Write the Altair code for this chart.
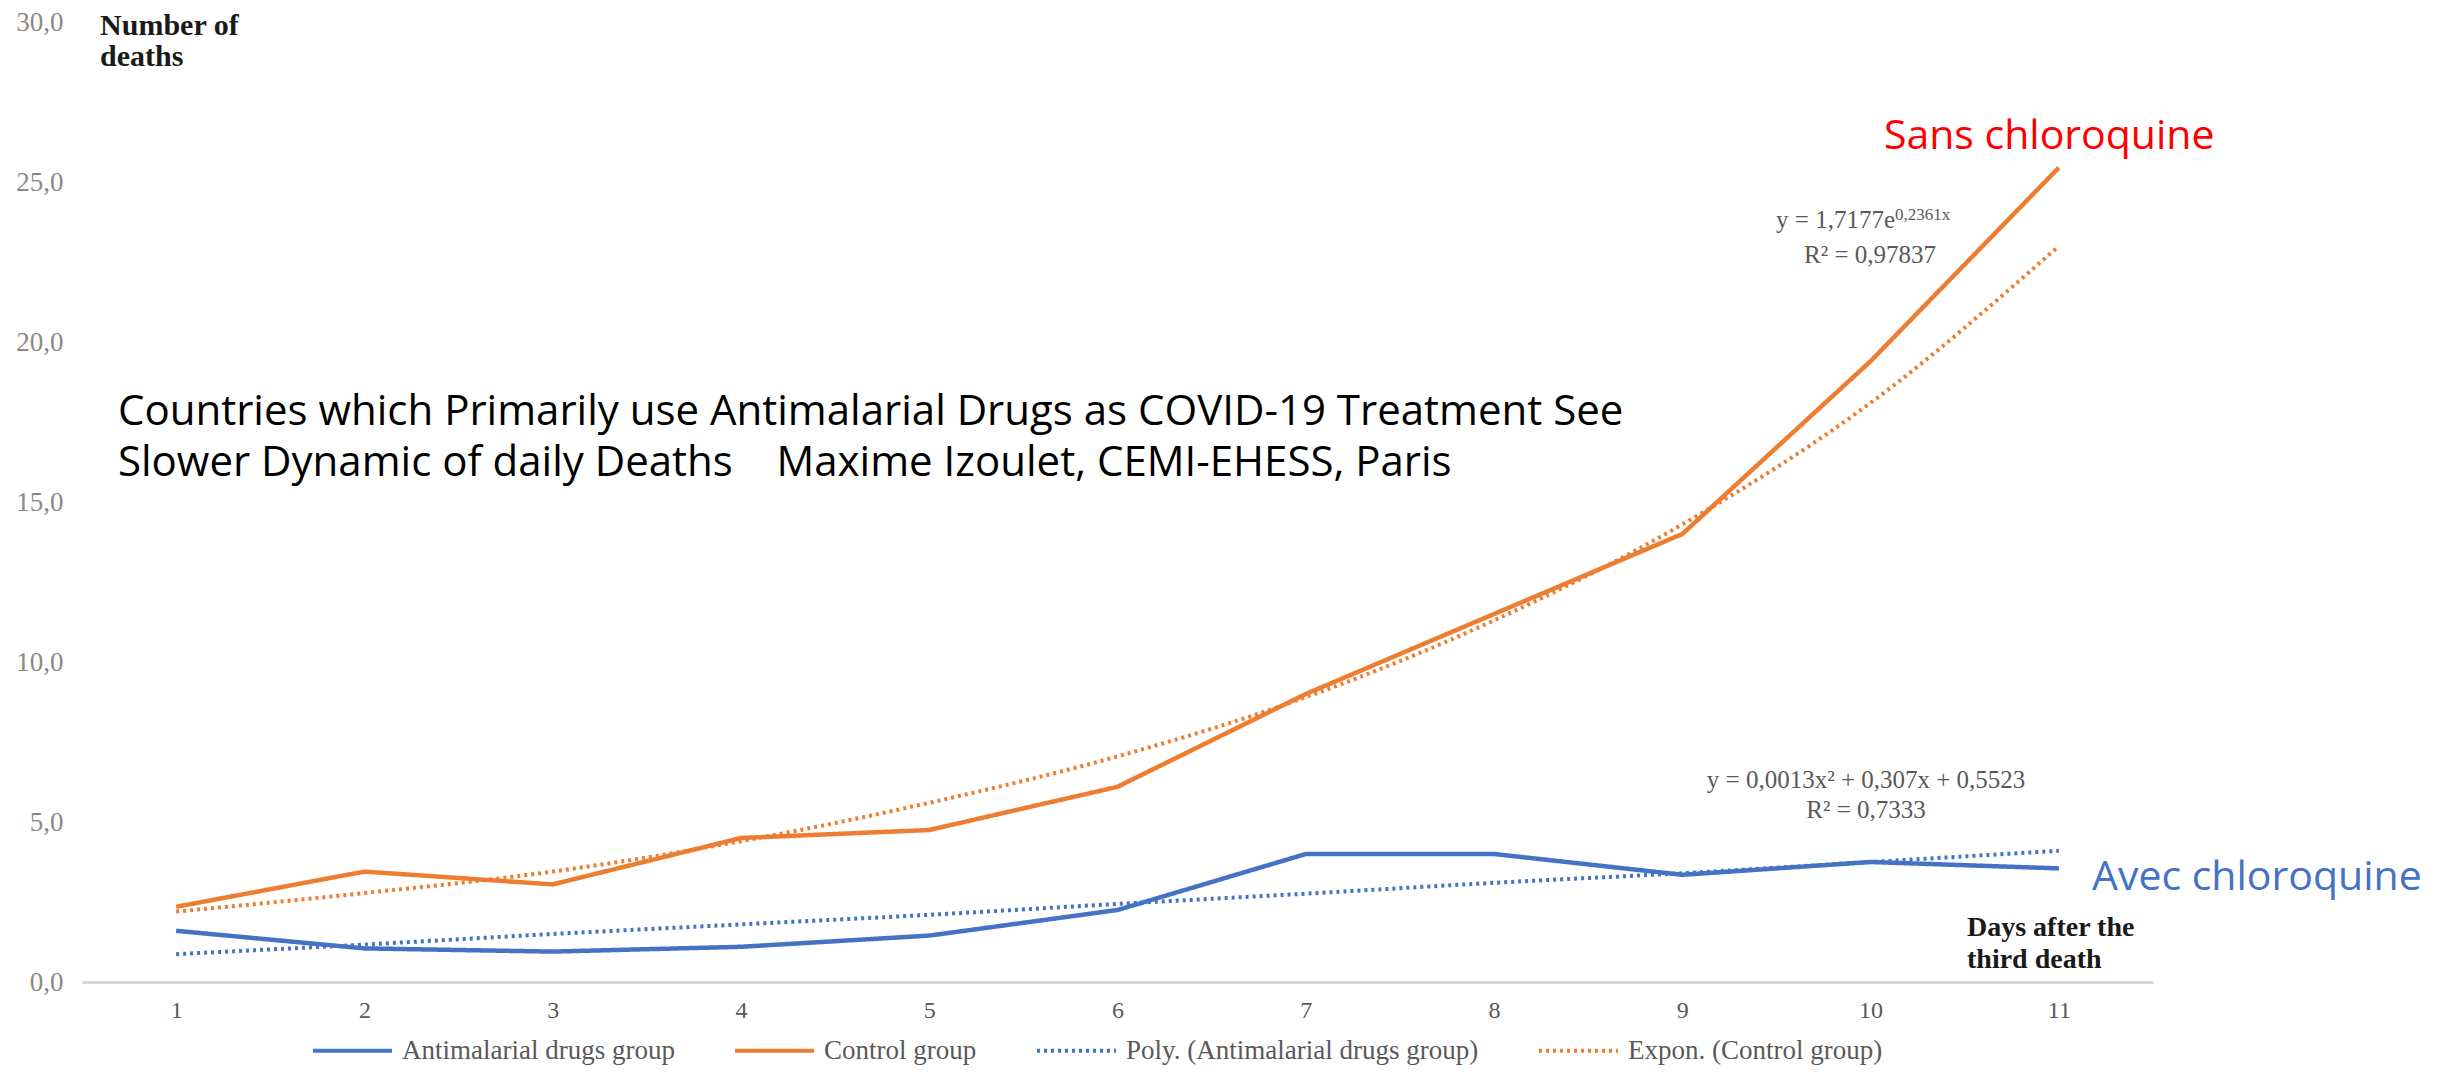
import altair as alt
import pandas as pd

# ---- data ----
days = [1, 2, 3, 4, 5, 6, 7, 8, 9, 10, 11]
antimalarial = [1.6, 1.05, 0.95, 1.1, 1.45, 2.25, 4.0, 4.0, 3.35, 3.75, 3.55]
control = [2.35, 3.45, 3.05, 4.5, 4.75, 6.1, 9.0, 11.5, 14.0, 19.4, 25.45]
poly_trend = [0.87, 1.17, 1.5, 1.8, 2.1, 2.44, 2.76, 3.1, 3.4, 3.75, 4.1]
expon_trend = [2.2, 2.78, 3.45, 4.4, 5.6, 7.05, 8.9, 11.3, 14.3, 18.1, 23.0]
series_names = ["Antimalarial drugs group", "Control group",
                "Poly. (Antimalarial drugs group)", "Expon. (Control group)"]
series_colors = ["#4472C4", "#ED7D31", "#4472C4", "#ED7D31"]
series_dash = [[1, 0], [1, 0], [3, 4], [3, 4]]
y_ticks = [0, 5, 10, 15, 20, 25, 30]

title_text = ("Countries which Primarily use Antimalarial Drugs as COVID-19 Treatment See\n"
              "Slower Dynamic of daily Deaths\u00a0\u00a0\u00a0\u00a0Maxime Izoulet, CEMI-EHESS, Paris")

rows = []
for name, vals in zip(series_names, [antimalarial, control, poly_trend, expon_trend]):
    for d, v in zip(days, vals):
        rows.append({"day": d, "value": v, "series": name})
df = pd.DataFrame(rows)
solid_df = df[df.series.isin(series_names[:2])]
trend_df = df[df.series.isin(series_names[2:])]

x_enc = alt.X("day:Q",
              scale=alt.Scale(domain=[0.5, 11.5], nice=False, zero=False),
              axis=alt.Axis(values=days, title=None, grid=False, ticks=False,
                            domainColor="#D9D9D9", domainWidth=3, format="d",
                            labelFont="Liberation Serif", labelFontSize=24,
                            labelColor="#595959", labelPadding=16))
y_enc = alt.Y("value:Q",
              scale=alt.Scale(domain=[0, 30], nice=False),
              axis=alt.Axis(values=y_ticks, title=None, grid=False, ticks=False,
                            domain=False,
                            labelExpr="replace(format(datum.value, '.1f'), '.', ',')",
                            labelFont="Liberation Serif", labelFontSize=27,
                            labelColor="#8a8a8a", labelPadding=19))

legend_opts = dict(title=None, orient="none", direction="horizontal",
                   legendX=229, legendY=987,
                   symbolType="stroke", symbolSize=6241, symbolStrokeWidth=4,
                   labelFont="Liberation Serif", labelFontSize=27,
                   labelColor="#595959", labelOffset=8,
                   columnPadding=52, labelLimit=0)
color_enc = alt.Color("series:N",
                      scale=alt.Scale(domain=series_names, range=series_colors),
                      legend=alt.Legend(**legend_opts))
dash_enc = alt.StrokeDash("series:N",
                          scale=alt.Scale(domain=series_names, range=series_dash),
                          legend=alt.Legend(**legend_opts))

solid = alt.Chart(solid_df).mark_line(strokeWidth=4.5).encode(
    x=x_enc, y=y_enc, color=color_enc, strokeDash=dash_enc)
trend = alt.Chart(trend_df).mark_line(strokeWidth=4, interpolate="monotone").encode(
    x=x_enc, y=y_enc, color=color_enc, strokeDash=dash_enc)


def note(texts, xs, ys, **kw):
    d = pd.DataFrame({"t": texts, "x": xs, "y": ys})
    return alt.Chart(d).mark_text(lineBreak="\n", **kw).encode(
        x=alt.X("x:Q"), y=alt.Y("y:Q"), text="t:N")


serif_bold = dict(font="Liberation Serif", fontWeight="bold", color="#1a1a1a",
                  align="left", baseline="alphabetic")
eq_style = dict(font="Liberation Serif", color="#595959", baseline="alphabetic")

notes = [
    note(["Number of\ndeaths"], [0.596], [29.6], fontSize=30, lineHeight=31, **serif_bold),
    note(["Days after the\nthird death"], [10.512], [1.4375], fontSize=28, lineHeight=32, **serif_bold),
    note([title_text], [0.691], [17.41], font="Open Sans", fontSize=42, lineHeight=51,
         color="#000000", align="left", baseline="alphabetic"),
    note(["Sans chloroquine"], [10.071], [26.03], font="Open Sans", fontSize=41,
         color="#FF0000", align="left", baseline="alphabetic"),
    note(["Avec chloroquine"], [11.176], [2.875], font="Open Sans", fontSize=41,
         color="#4472C4", align="left", baseline="alphabetic"),
    note(["y = 1,7177e"], [10.13], [23.56], fontSize=25, align="right", **eq_style),
    note(["0,2361x"], [10.13], [23.56], fontSize=17, align="left", dy=-8, **eq_style),
    note(["R\u00b2 = 0,97837"], [9.997], [22.47], fontSize=25, align="center", **eq_style),
    note(["y = 0,0013x\u00b2 + 0,307x + 0,5523"], [9.976], [6.06], fontSize=25, align="center", **eq_style),
    note(["R\u00b2 = 0,7333"], [9.976], [5.125], fontSize=25, align="center", **eq_style),
]

chart = alt.layer(solid, trend, *notes).properties(
    width=2071, height=960,
    padding={"left": 74, "top": 14, "right": 286, "bottom": 88},
    autosize=alt.AutoSizeParams(type="none"),
    background="white",
).configure_view(stroke=None)

chart.save("out.html", embed_options={"renderer": "svg", "actions": False})
